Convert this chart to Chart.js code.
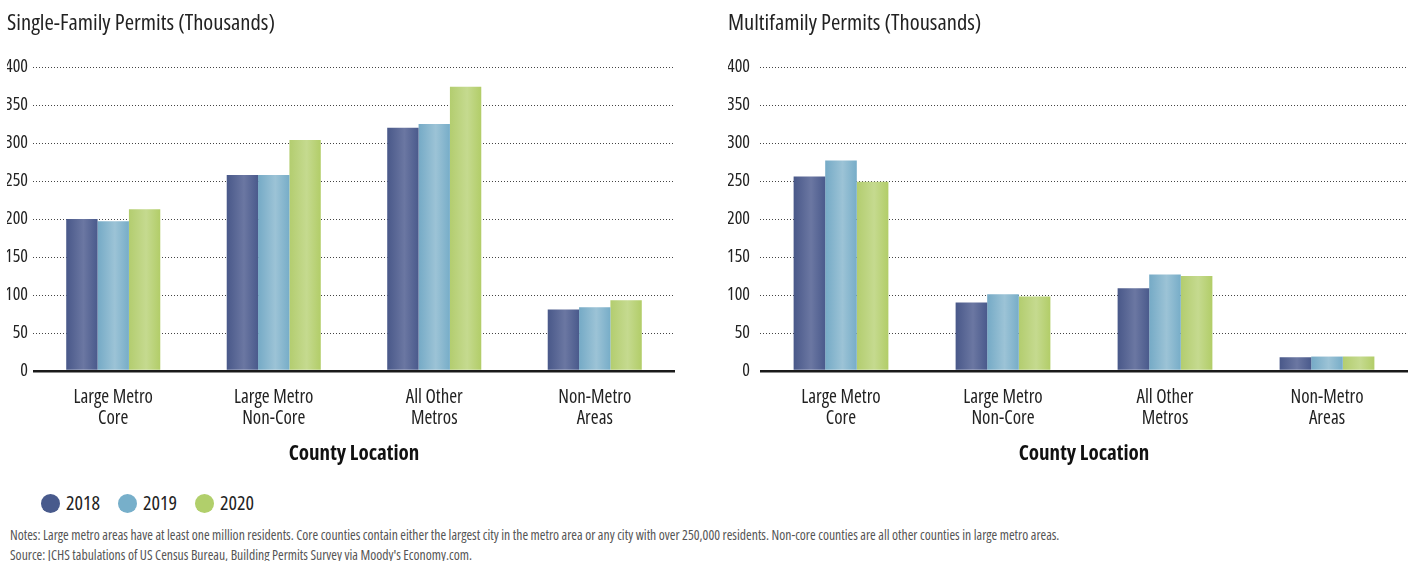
<!DOCTYPE html>
<html>
<head>
<meta charset="utf-8">
<script src="https://cdn.jsdelivr.net/npm/chart.js@4.4.1/dist/chart.umd.min.js"></script>
<style>
  html, body { margin:0; padding:0; background:#fff; }
  body { width:1416px; height:561px; position:relative; overflow:hidden;
         font-family:'Open Sans',sans-serif; font-stretch:75%; color:#222; }
  .panel { position:absolute; top:0; }
  #legend { position:absolute; left:41px; top:489px; display:flex; align-items:center; font-size:20px; line-height:28px; color:#222; }
  #legend .item { display:flex; align-items:center; margin-right:18px; }
  #legend .dot { width:19px; height:19px; border-radius:50%; margin-right:6px; }
  .note { position:absolute; left:10px; font-size:13.7px; line-height:18px; color:#555; white-space:nowrap; }
</style>
</head>
<body>
<div class="panel" style="left:0;width:690px;height:468px;"><canvas id="c1"></canvas></div>
<div class="panel" style="left:718px;width:698px;height:468px;"><canvas id="c2"></canvas></div>
<div id="legend"></div>
<div class="note" style="top:526px;">Notes: Large metro areas have at least one million residents. Core counties contain either the largest city in the metro area or any city with over 250,000 residents. Non-core counties are all other counties in large metro areas.</div>
<div class="note" style="top:546px;">Source: JCHS tabulations of US Census Bureau, Building Permits Survey via Moody's Economy.com.</div>
<script>
const categories = [["Large Metro","Core"],["Large Metro","Non-Core"],["All Other","Metros"],["Non-Metro","Areas"]];
const years = ["2018","2019","2020"];
const singleFamily2018 = [200, 258, 320, 81];
const singleFamily2019 = [197, 258, 325, 84];
const singleFamily2020 = [213, 304, 374, 93];
const multiFamily2018 = [256, 90, 109, 18];
const multiFamily2019 = [277, 101, 127, 19];
const multiFamily2020 = [249, 98, 125, 19];
const yTicks = [0, 50, 100, 150, 200, 250, 300, 350, 400];

const FONT = "'Open Sans', sans-serif";
const COND = 'condensed';
const legendColors = ["#485a8c", "#77afca", "#b1cf6b"];
const gradStops = [
  ["#495889", "#6b77a2", "#4a5a8c"],
  ["#75aac6", "#9cc3d6", "#77adc8"],
  ["#b3cd6f", "#c5da8f", "#b2cd68"]
];

function barFill(si) {
  return function(ctx) {
    const el = ctx.element;
    if (!el || !isFinite(el.x) || !isFinite(el.width)) return legendColors[si];
    const g = ctx.chart.ctx.createLinearGradient(el.x - el.width / 2, 0, el.x + el.width / 2, 0);
    g.addColorStop(0, gradStops[si][0]);
    g.addColorStop(0.55, gradStops[si][1]);
    g.addColorStop(1, gradStops[si][2]);
    return g;
  };
}

function makeChart(id, title, series, pad, tickPad, yWidth, catPct) {
  return new Chart(document.getElementById(id), {
    type: 'bar',
    data: {
      labels: categories,
      datasets: series.map((d, i) => ({
        label: years[i], data: d, backgroundColor: barFill(i), borderWidth: 0,
        barPercentage: 1.0, categoryPercentage: catPct
      }))
    },
    options: {
      responsive: true, maintainAspectRatio: false, animation: false,
      layout: { padding: pad },
      plugins: {
        legend: { display: false }, tooltip: { enabled: false },
        title: { display: true, text: title, align: 'start', color: '#222',
                 font: { family: FONT, size: 22.6, weight: 'normal ' + COND, lineHeight: 1.2 },
                 padding: { top: 10.5, bottom: 29.4 } }
      },
      scales: {
        x: {
          grid: { display: false, drawTicks: false }, border: { display: false },
          ticks: { color: '#222', font: { family: FONT, size: 19, weight: 'normal ' + COND, lineHeight: 1.1 },
                   padding: 16, maxRotation: 0, autoSkip: false },
          title: { display: true, text: 'County Location', color: '#111',
                   font: { family: FONT, size: 21, weight: 'bold ' + COND, lineHeight: 1.2 }, padding: { top: 0, bottom: 0 } },
          afterFit: (s) => { s.height = 96; }
        },
        y: {
          min: 0, max: 400,
          afterBuildTicks: (ax) => { ax.ticks = yTicks.map(v => ({ value: v })); },
          afterFit: (s) => { s.width = yWidth; },
          ticks: { color: '#222', font: { family: FONT, size: 18, weight: 'normal ' + COND }, padding: tickPad },
          grid: {
            drawTicks: false,
            color: (c) => c.tick && c.tick.value === 0 ? '#1a1a1a' : '#444',
            lineWidth: (c) => c.tick && c.tick.value === 0 ? 2.5 : 1
          },
          border: { display: false, dash: (c) => c.tick && c.tick.value === 0 ? [] : [1, 2] }
        }
      }
    }
  });
}

const ch1 = makeChart('c1', 'Single-Family Permits (Thousands)',
  [singleFamily2018, singleFamily2019, singleFamily2020], { left: 7, right: 15, top: 0, bottom: 1 }, 5, 26, 0.586);
const ch2 = makeChart('c2', 'Multifamily Permits (Thousands)',
  [multiFamily2018, multiFamily2019, multiFamily2020], { left: 10, right: 8, top: 0, bottom: 1 }, 10, 32, 0.585);
ch1.update(); ch2.update();

const lg = document.getElementById('legend');
years.forEach((y, i) => {
  const it = document.createElement('div'); it.className = 'item';
  const d = document.createElement('span'); d.className = 'dot'; d.style.background = legendColors[i];
  const t = document.createElement('span'); t.textContent = y;
  it.appendChild(d); it.appendChild(t); lg.appendChild(it);
});
</script>
</body>
</html>
